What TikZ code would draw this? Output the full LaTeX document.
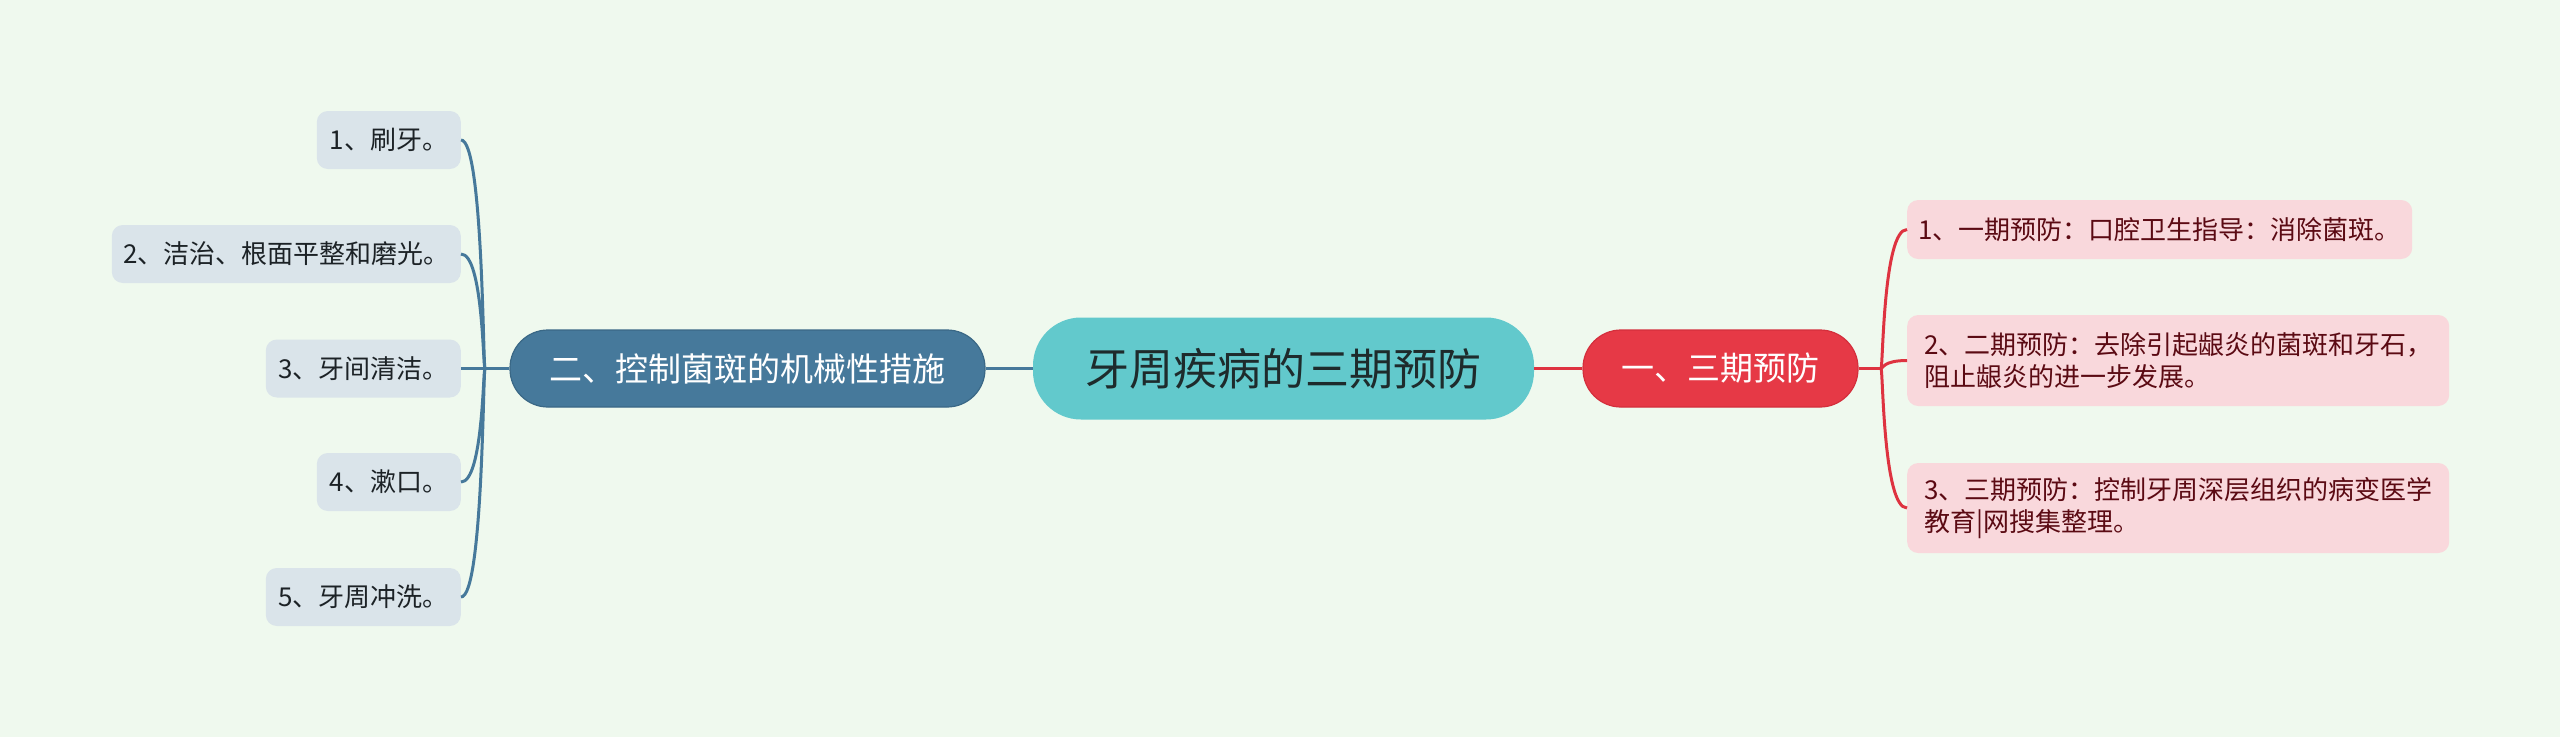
\documentclass[tikz,border=0pt]{standalone}
\usepackage{fontspec}
\setmainfont{Noto Sans CJK SC}
\definecolor{bg}{HTML}{EFF9EE}
\definecolor{cfill}{HTML}{62C9CC}
\definecolor{ctext}{HTML}{1E2B2C}
\definecolor{bluenode}{HTML}{46799B}
\definecolor{blueedge}{HTML}{3A6886}
\definecolor{blueleaf}{HTML}{DAE4EA}
\definecolor{bluetext}{HTML}{1C2226}
\definecolor{rednode}{HTML}{E63946}
\definecolor{rededge}{HTML}{D42F3C}
\definecolor{redleaf}{HTML}{F9D8DC}
\definecolor{redtext}{HTML}{5B0A13}
\definecolor{redline}{HTML}{DE3340}
\begin{document}
\begin{tikzpicture}[x=1pt,y=-1pt,
  central/.style={fill=cfill, rounded corners=48pt, minimum width=501pt, minimum height=102pt, inner sep=0pt, text=ctext, font=\fontsize{44}{52}\selectfont},
  bluemain/.style={fill=bluenode, draw=blueedge, line width=1.2pt, rounded corners=38pt, minimum height=77pt, inner sep=0pt, text=white, font=\fontsize{33}{40}\selectfont},
  redmain/.style={fill=rednode, draw=rededge, line width=1.2pt, rounded corners=38pt, minimum height=77pt, inner sep=0pt, text=white, font=\fontsize{33}{40}\selectfont},
  leafblue/.style={fill=blueleaf, rounded corners=11pt, minimum height=58pt, inner sep=0pt, text=bluetext, font=\fontsize{26}{32}\selectfont, anchor=east},
  leafred/.style={fill=redleaf, rounded corners=11pt, inner sep=0pt, text=redtext, font=\fontsize{26}{32}\selectfont, anchor=west, align=left},
  bluelink/.style={draw=bluenode, line width=3pt},
  redlink/.style={draw=redline, line width=3pt}
]
\useasboundingbox[fill=bg] (0,0) rectangle (2560,737);

% main nodes
\node[central] (c) at (1283.5,368.5) {牙周疾病的三期预防};
\node[bluemain, minimum width=475pt] (L) at (747.5,368.5) {二、控制菌斑的机械性措施};
\node[redmain, minimum width=275pt] (R) at (1720.5,368.5) {一、三期预防};

% left leaves
\node[leafblue, minimum width=144pt] (l1) at (461,140) {1、刷牙。};
\node[leafblue, minimum width=349pt] (l2) at (461,254) {2、洁治、根面平整和磨光。};
\node[leafblue, minimum width=195pt] (l3) at (461,368.5) {3、牙间清洁。};
\node[leafblue, minimum width=144pt] (l4) at (461,482) {4、漱口。};
\node[leafblue, minimum width=195pt] (l5) at (461,597) {5、牙周冲洗。};

% right leaves
\node[leafred, minimum width=505pt, minimum height=59pt] (r1) at (1907,229.5) {1、一期预防：口腔卫生指导：消除菌斑。};
\node[leafred, minimum width=542pt, minimum height=91pt] (r2) at (1907,360.5) {2、二期预防：去除引起龈炎的菌斑和牙石，\\阻止龈炎的进一步发展。};
\node[leafred, minimum width=542pt, minimum height=90pt] (r3) at (1907,508) {3、三期预防：控制牙周深层组织的病变医学\\教育|网搜集整理。};

% trunks
\coordinate (lt) at (485,368.5);
\coordinate (rt) at (1881,368.5);

% connectors centre to main
\draw[bluelink] (c.west) -- (L.east);
\draw[redlink] (c.east) -- (R.west);

% left branch
\draw[bluelink] (L.west) -- (lt);
\foreach \n in {l1,l2,l4,l5}{
  \draw[bluelink] (lt) .. controls (483,368.5) and (\n.east -| 483,0) .. (\n.east);
}
\draw[bluelink] (lt) -- (l3.east);

% right branch
\draw[redlink] (R.east) -- (rt);
\foreach \n in {r1,r2,r3}{
  \draw[redlink] (rt) .. controls (1883,368.5) and (\n.west -| 1883,0) .. (\n.west);
}
\end{tikzpicture}
\end{document}
